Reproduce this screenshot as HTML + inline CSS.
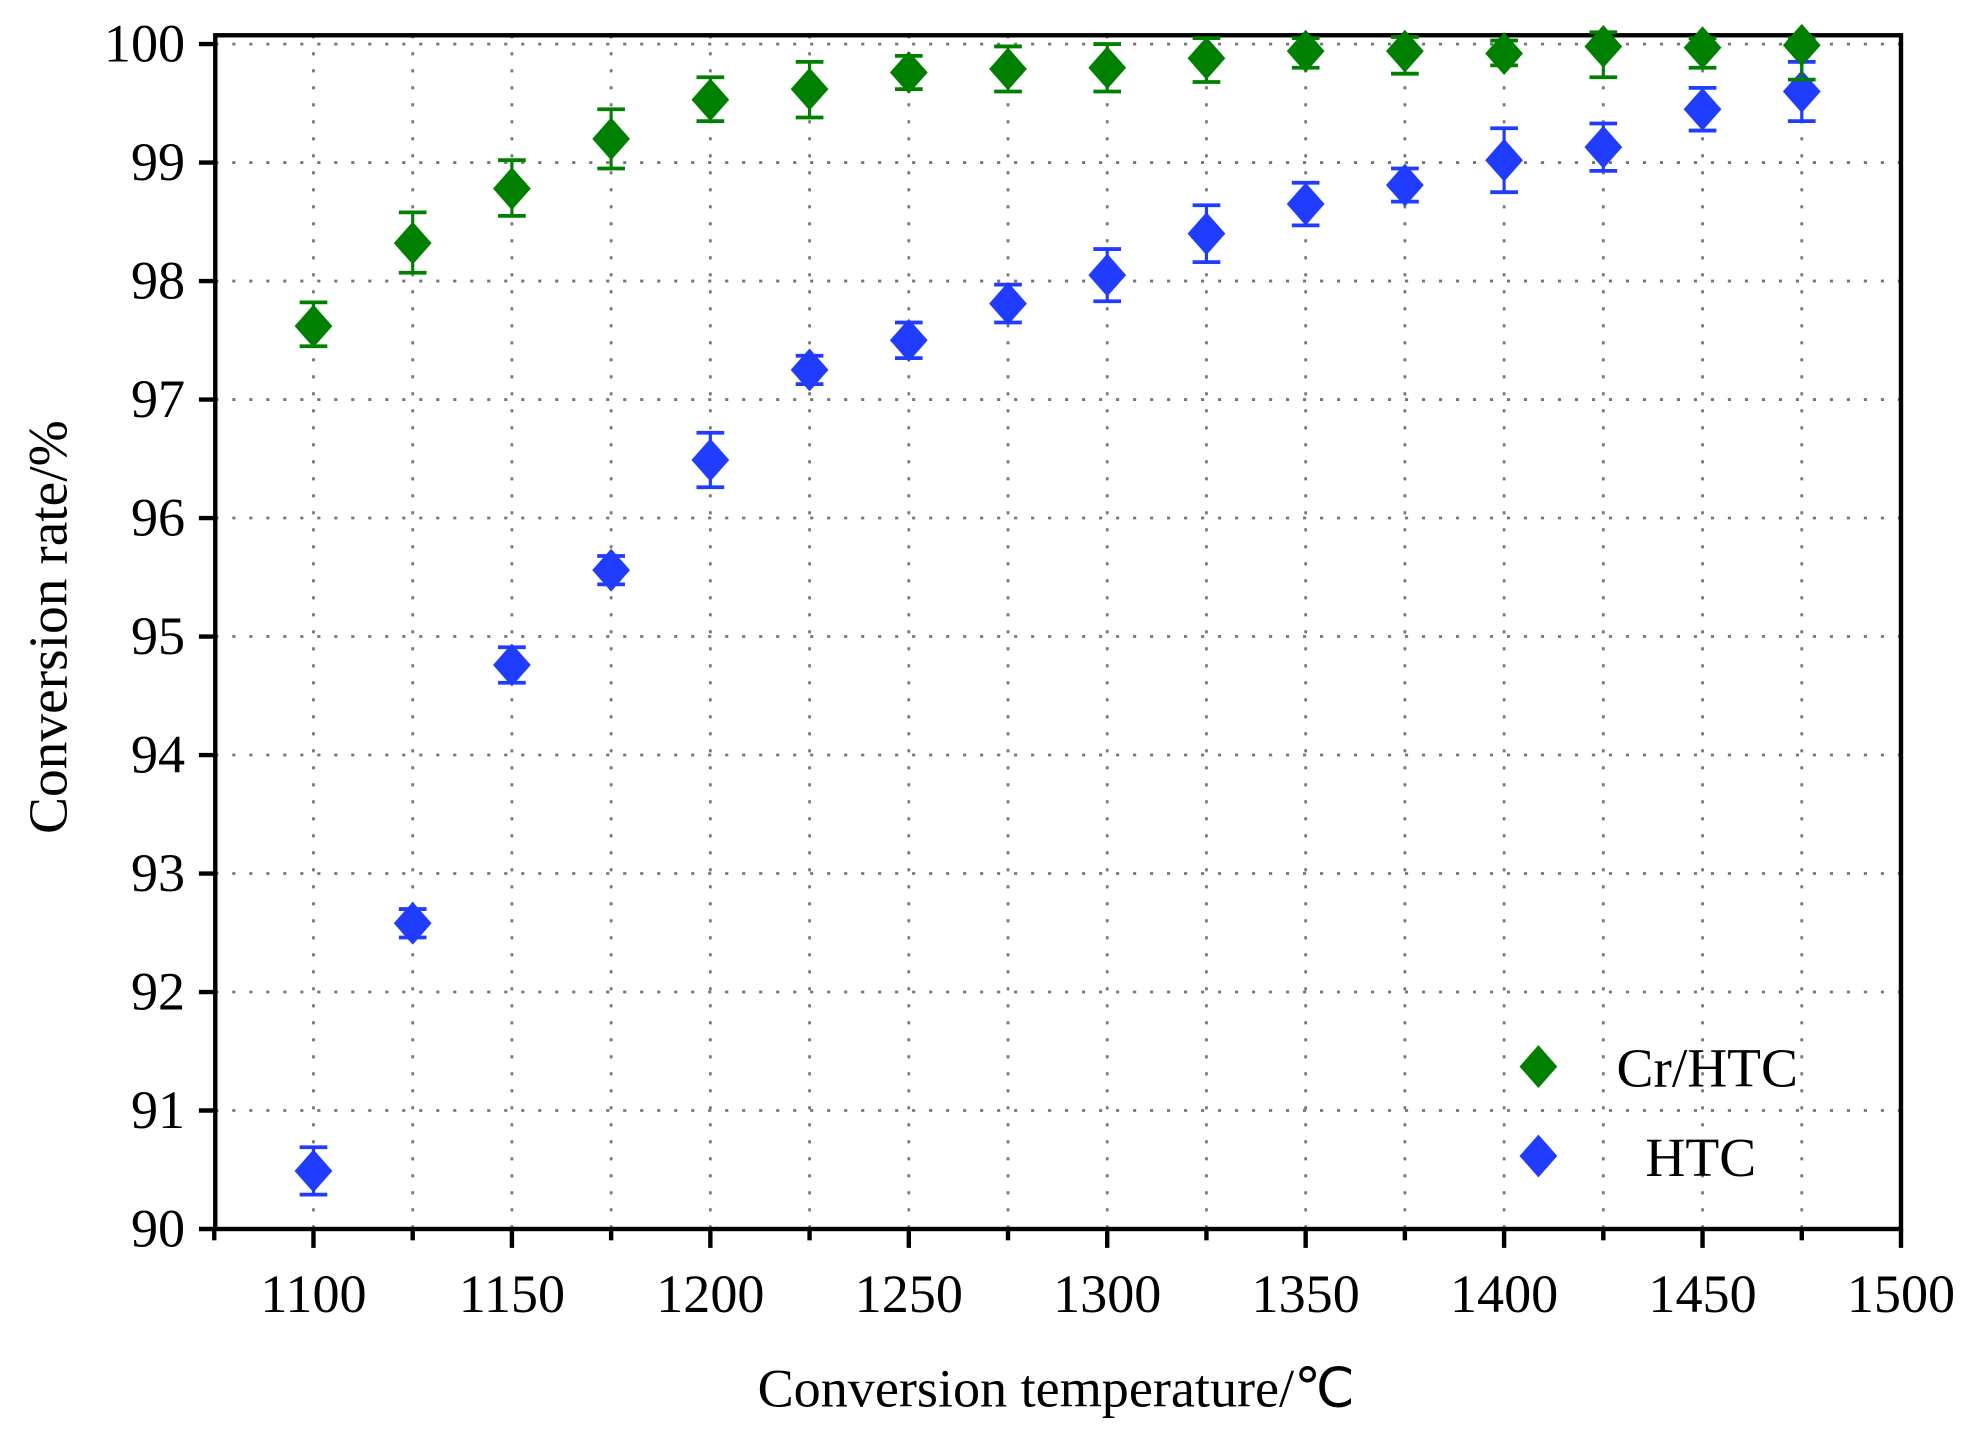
<!DOCTYPE html>
<html><head><meta charset="utf-8"><style>html,body{margin:0;padding:0;background:#fff;}svg{display:block;}</style></head>
<body>
<svg id="s" width="1974" height="1433" viewBox="0 0 1568 1138" preserveAspectRatio="none" xmlns="http://www.w3.org/2000/svg" font-family="'Liberation Serif', serif">
</svg>
<script>
const s=document.getElementById('s');
const L=171,R=1510,T=28,B=976;
const X=v=>249+(v-1100)*3.1525;
const Y=v=>976-(v-90)*94.1;
let h='';
for(let x=1100;x<=1475;x+=25){h+=`<line x1="${X(x)}" y1="${T}" x2="${X(x)}" y2="${B}" stroke="#777" stroke-width="2.2" stroke-dasharray="2.5,11"/>`;}
for(let y=91;y<=100;y++){h+=`<line x1="${L}" y1="${Y(y)}" x2="${R}" y2="${Y(y)}" stroke="#777" stroke-width="2.2" stroke-dasharray="2.5,11"/>`;}
h+=`<rect x="${L}" y="${T}" width="${R-L}" height="${B-T}" fill="none" stroke="#000" stroke-width="3.5"/>`;
for(let y=90;y<=100;y++){h+=`<line x1="${L-13}" y1="${Y(y)}" x2="${L}" y2="${Y(y)}" stroke="#000" stroke-width="3.5"/>`;
h+=`<text x="${L-24}" y="${Y(y)+14}" font-size="43" text-anchor="end">${y}</text>`;}
for(let x=1075;x<=1500;x+=25){const maj=(x%50===0);h+=`<line x1="${X(x)}" y1="${B}" x2="${X(x)}" y2="${B+(maj?15:9)}" stroke="#000" stroke-width="3.5"/>`;
if(maj)h+=`<text x="${X(x)}" y="${B+66}" font-size="43" text-anchor="middle">${x}</text>`;}
h+=`<text x="839" y="1117" font-size="43" text-anchor="middle">Conversion temperature/℃</text>`;
h+=`<text transform="translate(53,498) rotate(-90)" font-size="44" text-anchor="middle">Conversion rate/%</text>`;
const g=[[97.62,97.82,97.45],[98.32,98.58,98.07],[98.78,99.02,98.55],[99.2,99.45,98.95],[99.53,99.72,99.35],[99.62,99.85,99.38],[99.76,99.9,99.62],[99.79,99.98,99.6],[99.8,100.0,99.6],[99.88,100.05,99.68],[99.94,100.05,99.8],[99.94,100.06,99.75],[99.92,100.03,99.82],[99.98,100.1,99.72],[99.97,100.05,99.8],[99.99,100.05,99.7]];
const b=[[90.49,.2],[92.58,.12],[94.76,.15],[95.56,.12],[96.49,.23],[97.25,.12],[97.5,.15],[97.81,.16],[98.05,.22],[98.4,.24],[98.65,.18],[98.81,.14],[99.02,.27],[99.13,.2],[99.45,.18],[99.6,.25]];
function pt(x,v,hi,lo,c){const cx=X(x),cy=Y(v),yt=Y(hi),yb=Y(lo);
return `<line x1="${cx}" y1="${yt}" x2="${cx}" y2="${yb}" stroke="${c}" stroke-width="2.5"/><line x1="${cx-11}" y1="${yt}" x2="${cx+11}" y2="${yt}" stroke="${c}" stroke-width="3"/><line x1="${cx-11}" y1="${yb}" x2="${cx+11}" y2="${yb}" stroke="${c}" stroke-width="3"/><polygon points="${cx},${cy-17} ${cx+15},${cy} ${cx},${cy+17} ${cx-15},${cy}" fill="${c}"/>`;}
b.forEach((d,i)=>h+=pt(1100+25*i,d[0],d[0]+d[1],d[0]-d[1],'#1f3cff'));
g.forEach((d,i)=>h+=pt(1100+25*i,d[0],d[1],d[2],'#008000'));
h+=`<polygon points="1222,830 1237,847 1222,864 1207,847" fill="#008000"/><text x="1284" y="863" font-size="44">Cr/HTC</text>`;
h+=`<polygon points="1222,901 1237,918 1222,935 1207,918" fill="#1f3cff"/><text x="1307" y="934" font-size="44">HTC</text>`;
s.innerHTML=h;
</script>
</body></html>
